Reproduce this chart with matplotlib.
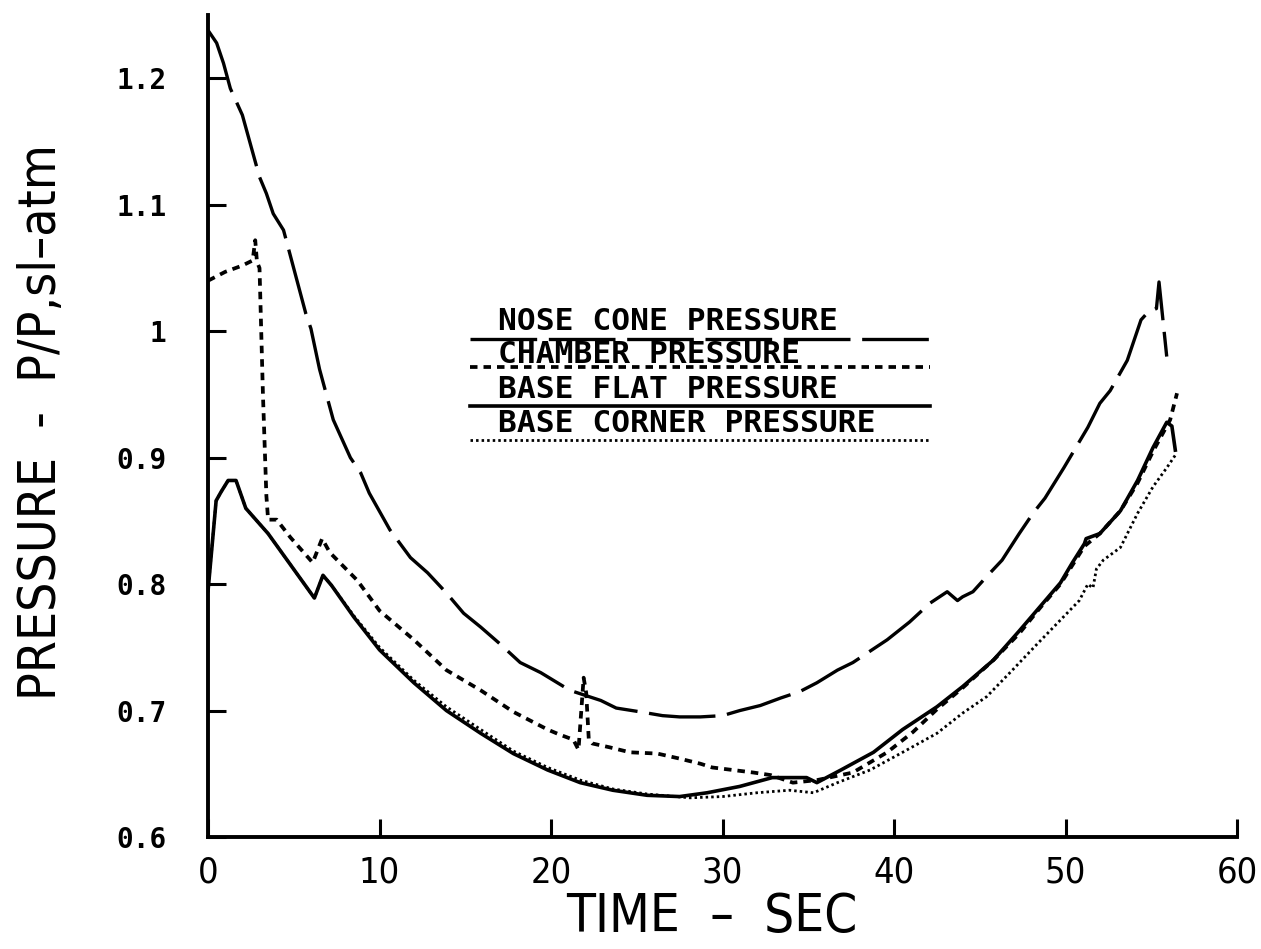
import numpy as np
import matplotlib
matplotlib.use('Agg')
import matplotlib.pyplot as plt
from matplotlib.lines import Line2D

# ================= DATA =================
nose_t = [0, 0.5, 0.9, 1.3, 2.0, 3.0, 3.4, 3.8, 4.4, 5.7, 6.0, 6.5, 7.3, 8.3, 8.9,
          9.4, 10.6, 11.8, 12.8, 13.9, 14.9, 15.9, 17.0, 18.2, 19.4, 21.1, 22.9,
          23.8, 25.2, 26.5, 27.5, 28.7, 30.0, 31.0, 32.2, 33.4, 34.5, 35.5, 36.7,
          37.6, 39.6, 40.9, 42.1, 43.1, 43.7, 44.0, 44.6, 45.4, 46.3, 47.3, 48.1,
          48.8, 49.9, 51.3, 52.0, 52.6, 53.6, 54.4, 54.8, 55.3, 55.45, 55.9]
nose_p = [1.238, 1.228, 1.212, 1.192, 1.171, 1.122, 1.109, 1.093, 1.080, 1.014,
          1.002, 0.970, 0.930, 0.900, 0.888, 0.872, 0.843, 0.821, 0.809, 0.793,
          0.777, 0.766, 0.753, 0.738, 0.730, 0.716, 0.708, 0.702, 0.699, 0.696,
          0.695, 0.695, 0.696, 0.700, 0.704, 0.710, 0.715, 0.722, 0.732, 0.738,
          0.756, 0.770, 0.785, 0.794, 0.787, 0.790, 0.794, 0.806, 0.819, 0.840,
          0.856, 0.868, 0.892, 0.924, 0.943, 0.953, 0.977, 1.009, 1.015, 1.018,
          1.039, 0.980]

chamber_t = [0, 1.0, 2.0, 2.6, 2.75, 2.85, 3.0, 3.2, 3.4, 3.5, 4.0, 4.8, 6.1, 6.65,
             7.1, 8.7, 10.0, 12.0, 13.9, 15.9, 17.8, 19.8, 20.5, 21.3, 21.6, 21.9,
             22.05, 22.2, 22.4, 23.4, 24.6, 26.2, 27.5, 28.7, 29.4, 30.6, 31.8,
             32.8, 34.1, 35.5, 37.6, 39.6, 41.1, 42.5, 44.0, 45.8, 47.3, 48.5,
             49.7, 50.4, 51.1, 52.0, 53.2, 54.2, 55.1, 56.1, 56.5]
chamber_p = [1.040, 1.047, 1.052, 1.056, 1.072, 1.055, 1.050, 0.950, 0.870, 0.851,
             0.851, 0.837, 0.817, 0.836, 0.825, 0.803, 0.779, 0.756, 0.732, 0.716,
             0.699, 0.685, 0.681, 0.677, 0.669, 0.726, 0.714, 0.677, 0.674, 0.671,
             0.667, 0.666, 0.662, 0.658, 0.655, 0.653, 0.651, 0.649, 0.643, 0.645,
             0.651, 0.667, 0.683, 0.701, 0.718, 0.740, 0.761, 0.781, 0.800, 0.815,
             0.830, 0.840, 0.858, 0.880, 0.905, 0.930, 0.951]

flat_t = [0, 0.47, 0.76, 1.17, 1.63, 2.2, 3.5, 6.2, 6.7, 7.2, 8.5, 10.0, 12.0, 13.9,
          15.9, 17.8, 19.8, 21.7, 23.6, 25.6, 27.5, 29.1, 31.0, 32.9, 34.9, 35.5,
          36.9, 38.8, 40.5, 42.5, 44.0, 45.8, 47.3, 48.5, 49.7, 50.4, 51.1, 51.2,
          52.0, 53.2, 54.2, 55.1, 55.9, 56.2, 56.4]
flat_p = [0.795, 0.866, 0.873, 0.882, 0.882, 0.860, 0.840, 0.789, 0.807, 0.799,
          0.774, 0.748, 0.722, 0.700, 0.682, 0.666, 0.653, 0.643, 0.637, 0.633,
          0.632, 0.635, 0.640, 0.647, 0.647, 0.643, 0.653, 0.667, 0.685, 0.703,
          0.719, 0.740, 0.763, 0.782, 0.801, 0.817, 0.832, 0.836, 0.840, 0.858,
          0.882, 0.908, 0.928, 0.925, 0.906]

corner_t = [0, 0.47, 0.76, 1.17, 1.63, 2.2, 3.5, 6.2, 6.7, 7.2, 8.5, 10.0, 12.0,
            13.9, 15.9, 17.8, 19.8, 21.7, 23.6, 25.6, 28.1, 30.0, 32.0, 33.9, 35.3,
            36.7, 38.6, 40.5, 42.5, 44.0, 45.4, 46.9, 48.3, 49.3, 50.8, 51.3, 51.6,
            51.8, 52.2, 53.2, 54.2, 55.1, 55.9, 56.4]
corner_p = [0.795, 0.866, 0.873, 0.882, 0.882, 0.860, 0.840, 0.789, 0.807, 0.799,
            0.775, 0.750, 0.724, 0.703, 0.685, 0.668, 0.655, 0.645, 0.638, 0.634,
            0.631, 0.632, 0.635, 0.637, 0.635, 0.643, 0.653, 0.667, 0.682, 0.698,
            0.711, 0.732, 0.752, 0.766, 0.787, 0.800, 0.797, 0.812, 0.819, 0.829,
            0.856, 0.877, 0.892, 0.902]

x_ticks = [0, 10, 20, 30, 40, 50, 60]
y_ticks = [0.6, 0.7, 0.8, 0.9, 1.0, 1.1, 1.2]
y_ticklabels = ['0.6', '0.7', '0.8', '0.9', '1', '1.1', '1.2']

legend_labels = ['NOSE CONE PRESSURE', 'CHAMBER PRESSURE',
                 'BASE FLAT PRESSURE', 'BASE CORNER PRESSURE']

# ================= STYLES =================
nose_style = dict(color='black', lw=2.4, linestyle=(0, (20, 3.5)))
chamber_style = dict(color='black', lw=2.7, linestyle=(0, (2.0, 1.6)))
flat_style = dict(color='black', lw=2.6, linestyle='-')
corner_style = dict(color='black', lw=2.0, linestyle=(0, (0.9, 1.1)))
styles = [nose_style, chamber_style, flat_style, corner_style]

cond = dict(family='DejaVu Sans', fontstretch='condensed')

fig = plt.figure(figsize=(12.61, 9.49), dpi=100)
ax = fig.add_axes([0.165, 0.118, 0.816, 0.866])

ax.plot(corner_t, corner_p, **corner_style)
ax.plot(flat_t, flat_p, **flat_style)
ax.plot(chamber_t, chamber_p, **chamber_style)
ax.plot(nose_t, nose_p, **nose_style)

ax.set_xlim(0, 60)
ax.set_ylim(0.6, 1.25)

for side in ['top', 'right']:
    ax.spines[side].set_visible(False)
for side in ['left', 'bottom']:
    ax.spines[side].set_linewidth(2.8)

ax.set_xticks(x_ticks)
ax.set_xticklabels([str(v) for v in x_ticks], fontsize=26, **cond)
ax.set_yticks(y_ticks)
ax.set_yticklabels(y_ticklabels, family='DejaVu Sans Mono', fontweight='bold', fontsize=20)
ax.tick_params(axis='x', direction='in', length=13, width=2.2, pad=13)
ax.tick_params(axis='y', direction='in', length=13, width=2.2, pad=30)

ax.set_xlabel('TIME  \u2013  SEC', fontsize=38, **cond)
ax.xaxis.set_label_coords(0.49, -0.097)
ax.xaxis.label.set_va('center')
ax.set_ylabel('PRESSURE  -  P/P,sl\u2013atm', fontsize=37, **cond)
ax.yaxis.set_label_coords(-0.161, 0.505)
ax.yaxis.label.set_va('center')

# legend: label text with a sample line underneath, as on the original plot
text_rows = [0.627, 0.587, 0.545, 0.503]
line_rows = [0.606, 0.572, 0.524, 0.483]
for lab, st, ty, ly in zip(legend_labels, styles, text_rows, line_rows):
    ax.text(0.282, ty, lab, transform=ax.transAxes, family='DejaVu Sans Mono',
            fontweight='bold', fontsize=22.5, ha='left', va='center')
    ax.add_line(Line2D([0.255, 0.702], [ly, ly], transform=ax.transAxes, **st))

fig.savefig('out.png', dpi=100)
